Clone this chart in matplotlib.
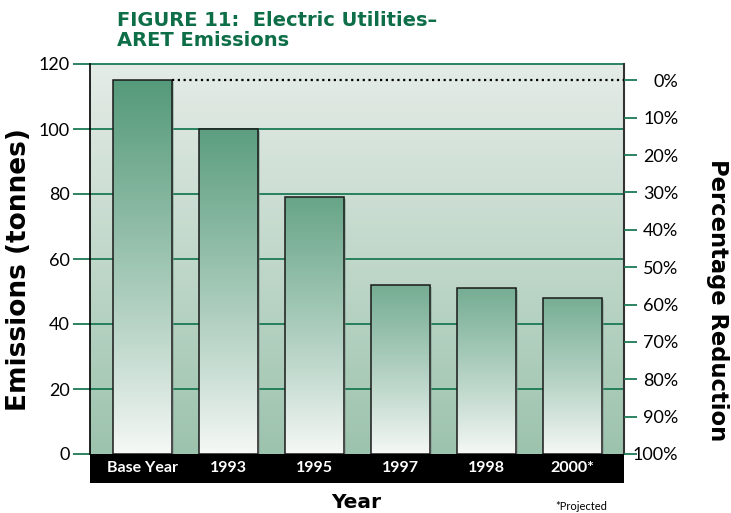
import numpy as np
import matplotlib
matplotlib.use("Agg")
import matplotlib.pyplot as plt
from matplotlib.patches import Rectangle
from matplotlib.colors import to_rgb

# ---- data ----
categories = ["Base Year", "1993", "1995", "1997", "1998", "2000*"]
emissions = [115, 100, 79, 52, 51, 48]
left_ticks = [0, 20, 40, 60, 80, 100, 120]
pct_ticks = [0, 10, 20, 30, 40, 50, 60, 70, 80, 90, 100]
base_value = emissions[0]

FONT = "Lato"
BOLD = "DejaVu Sans"
GREEN = "#1b7a55"
TITLE_GREEN = "#0d6e48"

fig = plt.figure(figsize=(7.31, 5.13), dpi=100)
ax = fig.add_axes([90/731, 1-454/513, (624-90)/731, (454-64)/513])

x = np.arange(len(categories))
ax.set_xlim(-0.61, len(categories) - 0.4)
ax.set_ylim(0, 120)

# background gradient
top_c = np.array(to_rgb("#e5ece7"))
bot_c = np.array(to_rgb("#9cc3ad"))
t = np.linspace(0, 1, 256)[:, None]
grad = (1 - t) * top_c + t * bot_c
ax.imshow(grad[:, None, :].repeat(2, axis=1), extent=(0, 1, 0, 1), transform=ax.transAxes,
          aspect="auto", zorder=0, origin="upper")

# gridlines
for v in left_ticks[1:]:
    ax.axhline(v, color=GREEN, lw=1.3, zorder=1, clip_on=False)

# bars with gradient
width = 0.69
dark = np.array(to_rgb("#559a7a"))
white = np.array(to_rgb("#f7f9f7"))
for xi, h in zip(x, emissions):
    ax.add_patch(Rectangle((xi - width/2 + 0.025, 0), width, h - 0.5, facecolor="#7d968a",
                           edgecolor="none", alpha=0.5, zorder=2))
    frac = np.linspace(1, 0, 200)[:, None]
    top_strength = 0.6 + 0.4 * h / base_value
    w = (frac * top_strength) ** 0.9
    g = w * dark + (1 - w) * white
    ax.imshow(g[:, None, :].repeat(2, axis=1), extent=(xi - width/2, xi + width/2, 0, h),
              aspect="auto", zorder=3, origin="upper")
    ax.add_patch(Rectangle((xi - width/2, 0), width, h, facecolor="none", edgecolor="#1a1a1a",
                           lw=1.1, zorder=4))
ax.set_xlim(-0.61, len(categories) - 0.4)
ax.set_ylim(0, 120)

# dotted reference line at base year level
ax.plot([x[0] + width/2, len(categories) - 0.4], [base_value, base_value], color="black",
        lw=1.6, ls=(0, (1, 1.6)), zorder=4, clip_on=False)

for s in ["top", "bottom"]:
    ax.spines[s].set_visible(False)
ax.spines["left"].set_color("black")
ax.spines["left"].set_linewidth(1.2)
ax.spines["right"].set_color("#333333")
ax.spines["right"].set_linewidth(1.5)

ax.set_yticks(left_ticks)
ax.set_yticklabels([str(v) for v in left_ticks], fontsize=13, family=FONT)
ax.tick_params(axis="y", length=12.5, width=1.3, color=GREEN, pad=2)
ax.set_xticks([])

# black category band
ax.add_patch(Rectangle((0, -0.075), 1, 0.075, transform=ax.transAxes, facecolor="black",
                       edgecolor="none", clip_on=False, zorder=5))
for xi, c in zip(x, categories):
    ax.text(xi, -0.037, c, transform=ax.get_xaxis_transform(), ha="center", va="center",
            color="white", fontsize=11.5, fontweight="bold", family=FONT, zorder=6)

# right axis
ax2 = ax.twinx()
ax2.set_ylim(0, 120)
ax2.set_yticks([base_value * (1 - p / 100) for p in pct_ticks])
ax2.set_yticklabels([f"{p}%" for p in pct_ticks], fontsize=13, family=FONT, ha="right")
ax2.tick_params(axis="y", length=9.5, width=1.3, color=GREEN, pad=29.5)
for s in ax2.spines.values():
    s.set_visible(False)

# texts
fig.text(117/731, 1 - 11/513, "FIGURE 11:  Electric Utilities–\nARET Emissions", ha="left",
         va="top", color=TITLE_GREEN, fontsize=14, fontweight="bold", family=BOLD,
         linespacing=1.08)
fig.text(19/731, 1 - 270/513, "Emissions (tonnes)", rotation=90, ha="center", va="center",
         fontsize=19, fontweight="bold", family=BOLD)
fig.text(718/731, 1 - 300/513, "Percentage Reduction", rotation=-90, ha="center", va="center",
         fontsize=16.3, fontweight="bold", family=BOLD)
fig.text(356/731, 1 - 503/513, "Year", ha="center", va="center", fontsize=14.5,
         fontweight="bold", family=BOLD)
fig.text(581/731, 1 - 507/513, "*Projected", ha="center", va="center", fontsize=8,
         family=FONT)

fig.savefig("out.png", dpi=100)
